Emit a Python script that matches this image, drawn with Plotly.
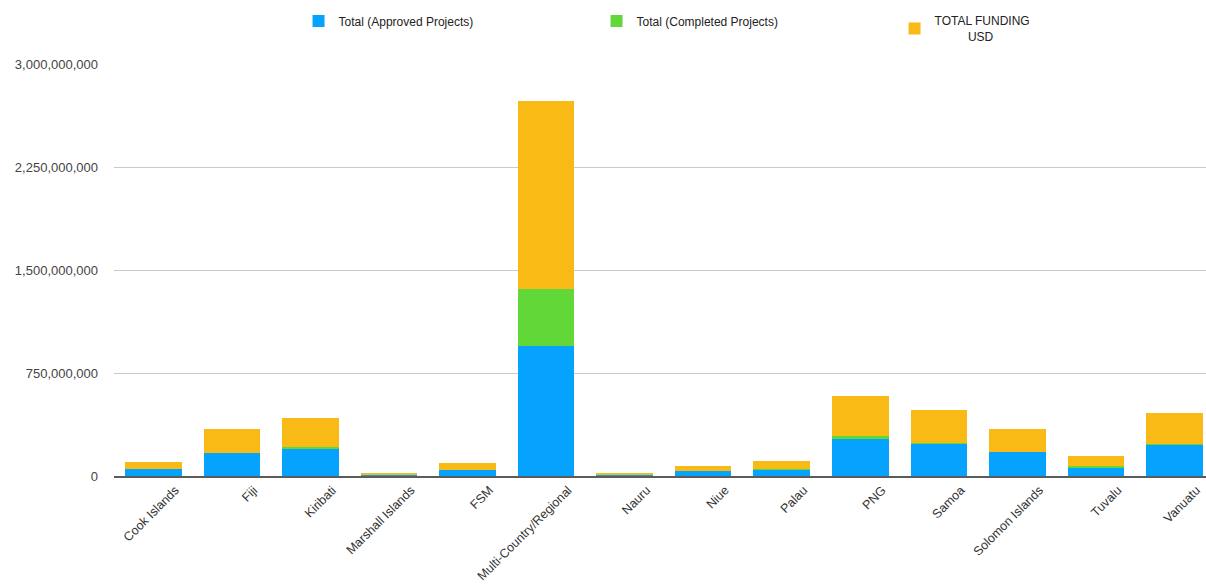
import plotly.graph_objects as go

countries = ["Cook Islands", "Fiji", "Kiribati", "Marshall Islands", "FSM",
             "Multi-Country/Regional", "Nauru", "Niue", "Palau", "PNG",
             "Samoa", "Solomon Islands", "Tuvalu", "Vanuatu"]

# USD, per country
approved = [52e6, 170e6, 195e6, 11e6, 46e6, 950e6, 10e6, 37e6, 48e6, 270e6,
            233e6, 172e6, 63e6, 228e6]
completed = [0, 0, 17e6, 1e6, 1e6, 414e6, 1e6, 0, 6e6, 20e6,
             6e6, 0, 10e6, 2e6]
total_funding = [a + c for a, c in zip(approved, completed)]

y_ticks = [0, 750e6, 1500e6, 2250e6, 3000e6]

FONT = "Liberation Sans, Arial, Helvetica, sans-serif"

fig = go.Figure()
fig.add_bar(x=countries, y=approved, name="Total (Approved Projects)",
            marker=dict(color="#05A3FE", line=dict(width=0)))
fig.add_bar(x=countries, y=completed, name="Total (Completed Projects)",
            marker=dict(color="#62D838", line=dict(width=0)))
fig.add_bar(x=countries, y=total_funding,
            name="TOTAL FUNDING<br>" + "\u00a0" * 10 + "USD",
            marker=dict(color="#F9BA15", line=dict(width=0)))

fig.update_layout(
    barmode="stack",
    bargap=0.28,
    width=1206, height=587,
    margin=dict(l=114, r=0, t=64, b=111),
    plot_bgcolor="white", paper_bgcolor="white",
    font=dict(family=FONT, size=12, color="#333"),
    showlegend=True,
    legend=dict(orientation="h", x=0.169, xanchor="left", y=1.085, yanchor="middle",
                entrywidth=253, entrywidthmode="pixels", valign="middle",
                font=dict(family=FONT, size=12, color="#222"),
                itemsizing="constant", traceorder="normal"),
    xaxis=dict(range=[-0.5, 13.4], showline=True, linecolor="#5c5c5c", linewidth=2,
               tickangle=-45, tickfont=dict(family=FONT, size=12.5, color="#333"),
               ticklabelshift=22, ticklabelstandoff=0,
               showgrid=False, ticks=""),
    yaxis=dict(range=[0, 3000e6], tickvals=y_ticks, tickformat=",d",
               showgrid=True, gridcolor="#c9c9c9", gridwidth=1,
               zeroline=False, ticks="", ticklabelstandoff=15,
               tickfont=dict(family=FONT, size=13, color="#444")),
)

fig.write_html("out.html")
